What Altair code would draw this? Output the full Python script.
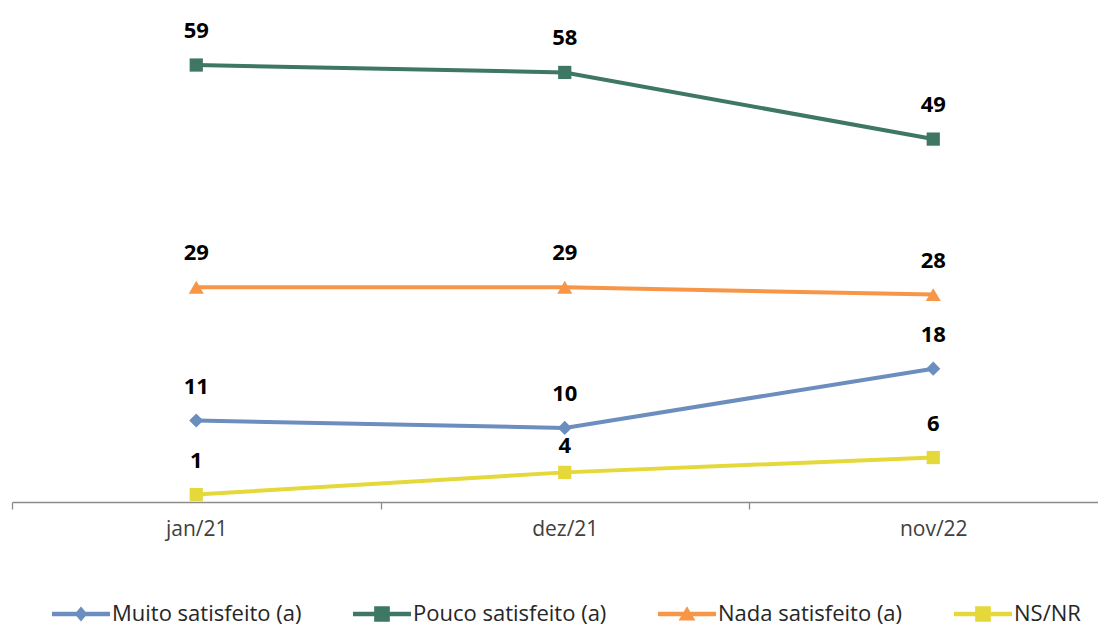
import altair as alt
import pandas as pd

periods = ["jan/21", "dez/21", "nov/22"]
series_names = ["Muito satisfeito (a)", "Pouco satisfeito (a)", "Nada satisfeito (a)", "NS/NR"]
muito = [11, 10, 18]
pouco = [59, 58, 49]
nada = [29, 29, 28]
nsnr = [1, 4, 6]

colors = ["#6B8EBF", "#3E7763", "#F79646", "#E5D83A"]
marker_shapes = ["diamond", "square", "triangle-up", "square"]
marker_sizes = [200, 175, 225, 175]

rows = []
for name, vals in zip(series_names, [muito, pouco, nada, nsnr]):
    for p, v in zip(periods, vals):
        rows.append({"period": p, "series": name, "value": v})
df = pd.DataFrame(rows)

FONT = "Open Sans"

x_enc = alt.X("period:N", sort=periods,
              scale=alt.Scale(type="band", domain=periods, rangeMin=0, rangeMax=1105.5,
                              paddingInner=0, paddingOuter=0),
              axis=alt.Axis(title=None, labelAngle=0, tickBand="extent", domainColor="#8C8C8C",
                            domainWidth=1.3, tickColor="#8C8C8C", tickWidth=1.3, tickSize=7,
                            labelPadding=9, labelFontSize=21, labelColor="#404040", labelFont=FONT,
                            grid=False))
y_enc = alt.Y("value:Q", scale=alt.Scale(domain=[0, 66.7], nice=False, zero=True), axis=None)

base = alt.Chart(df)

layers = []

# legend-only layer (invisible marks) carrying the colour and shape scales
line_part = "M-1,-0.078H1V0.078H-1Z "
legend_paths = [
    line_part + "M0,-0.26L0.22,0L0,0.26L-0.22,0Z",
    line_part + "M-0.27,-0.27H0.27V0.27H-0.27Z",
    line_part + "M0,-0.27L0.29,0.22H-0.29Z",
    line_part + "M-0.27,-0.27H0.27V0.27H-0.27Z",
]
leg = alt.Legend(title=None, orient="none", legendX=40, legendY=577,
                 direction="horizontal", columns=4, labelFontSize=22, labelLimit=0,
                 labelFont=FONT, labelColor="#262626", symbolSize=3364,
                 symbolStrokeWidth=0, labelOffset=2, columnPadding=51,
                 padding=0, symbolOpacity=1)
legend_layer = base.mark_point(filled=True, opacity=0, size=3364).encode(
    x=x_enc, y=y_enc,
    color=alt.Color("series:N", scale=alt.Scale(domain=series_names, range=colors), legend=leg),
    shape=alt.Shape("series:N", scale=alt.Scale(domain=series_names, range=legend_paths), legend=leg),
)
layers.append(legend_layer)

for name, col in zip(series_names, colors):
    layers.append(
        base.transform_filter(alt.datum.series == name)
        .mark_line(strokeWidth=4, color=col)
        .encode(x=x_enc, y=y_enc)
    )

for name, col, shp, sz in zip(series_names, colors, marker_shapes, marker_sizes):
    layers.append(
        base.transform_filter(alt.datum.series == name)
        .mark_point(shape=shp, filled=True, size=sz, opacity=1, color=col)
        .encode(x=x_enc, y=y_enc)
    )

# labels: the NS/NR label at dez/21 sits a little lower to clear the blue line
is_low = "datum.series === 'NS/NR' && datum.period === 'dez/21'"
layers.append(base.transform_filter("!(" + is_low + ")").mark_text(
    dy=-34, fontSize=22, fontWeight="bold", font=FONT, color="#000000").encode(
    x=x_enc, y=y_enc, text="value:Q"))
layers.append(base.transform_filter(is_low).mark_text(
    dy=-26, fontSize=22, fontWeight="bold", font=FONT, color="#000000").encode(
    x=x_enc, y=y_enc, text="value:Q"))

chart = alt.layer(*layers).properties(
    width=1086, height=494,
    padding={"left": 4, "top": 0, "right": 0, "bottom": 126},
    autosize=alt.AutoSizeParams(type="none"),
    background="white",
).configure_view(strokeWidth=0)

chart.save("out.html", embed_options={"renderer": "svg", "actions": False})
